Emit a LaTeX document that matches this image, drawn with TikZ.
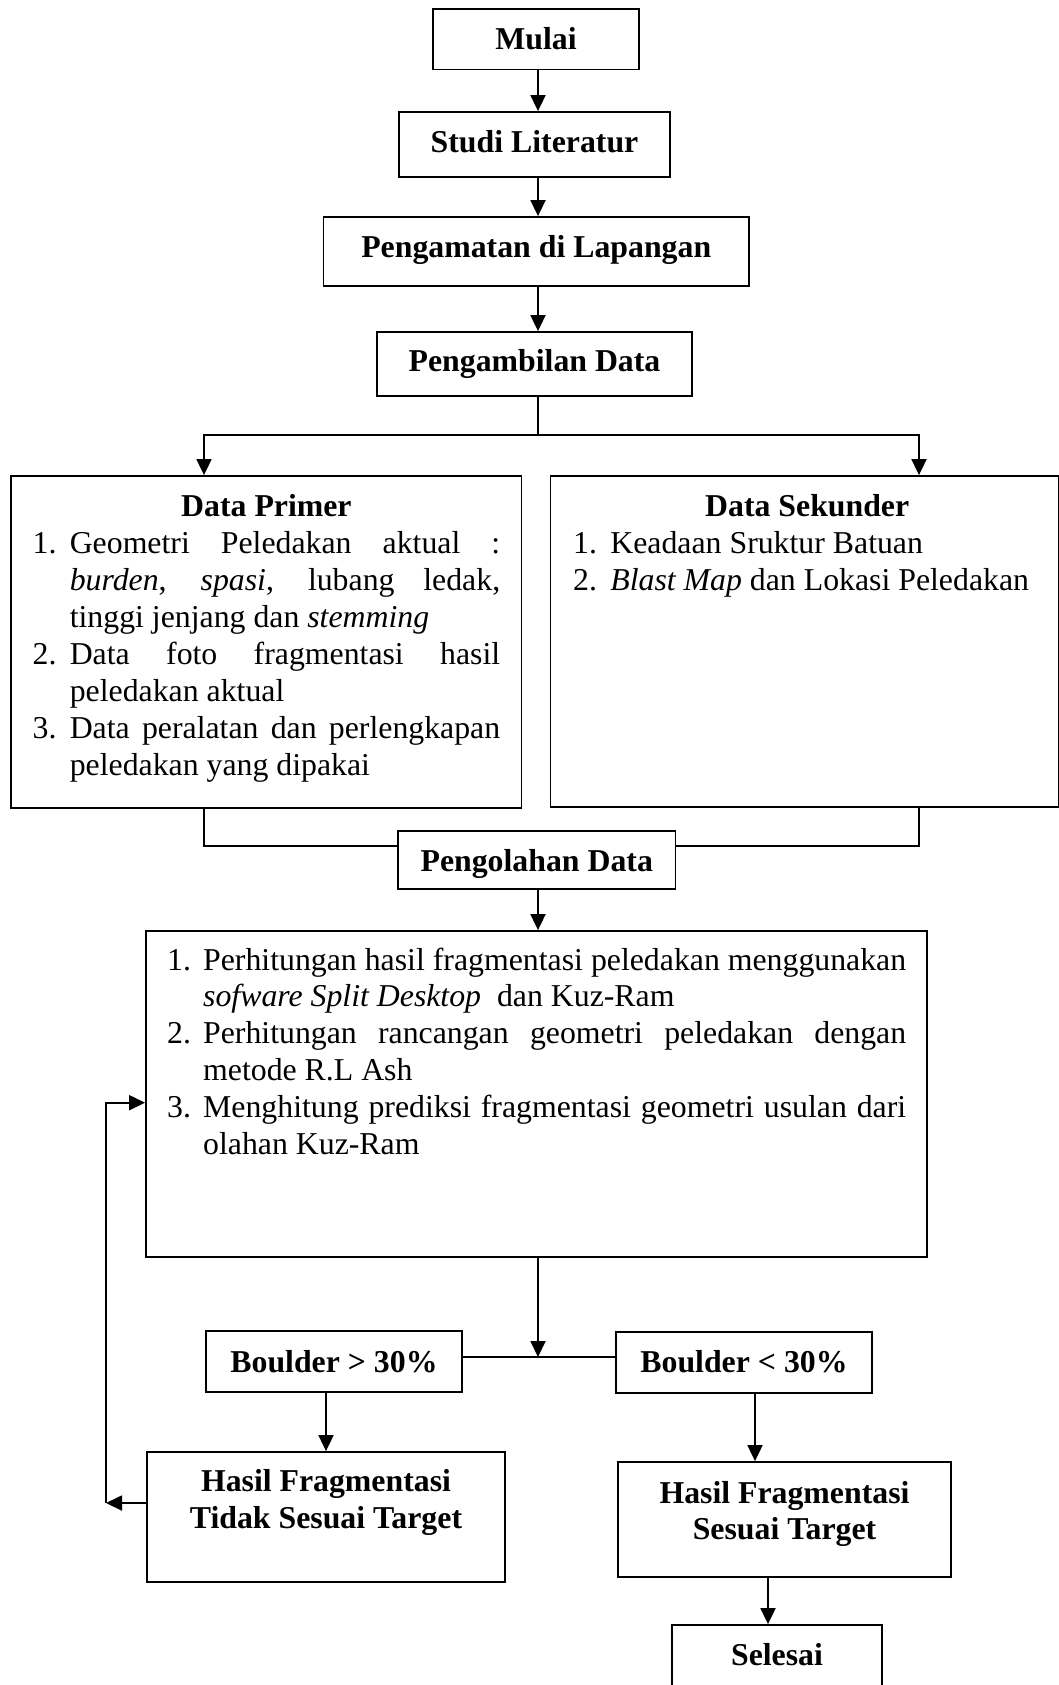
\documentclass[tikz,border=0pt]{standalone}
\usepackage{fontspec}
\setmainfont{Liberation Serif}
\usetikzlibrary{arrows.meta}
\newcommand{\fs}{\fontsize{31.8pt}{36.9pt}\selectfont}
\newcommand{\itm}[2][37.2pt]{\noindent\hangindent=#1\hangafter=1\makebox[#1][l]{#2}}
\begin{document}
\begin{tikzpicture}[x=1pt,y=-1pt,
  box/.style={draw, line width=1.8pt, inner sep=0pt, font=\fs\bfseries, text height=24pt, align=center},
  arr/.style={line width=1.8pt, -{Triangle[length=16pt,width=15pt]}},
  ln/.style={line width=1.8pt},
  txt/.style={inner sep=0pt}]
\useasboundingbox (0,0) rectangle (1059,1685);

% boxes
\node[box, minimum width=206pt, minimum height=60.5pt, text depth=2.5pt] (mulai) at (536,39.25) {Mulai};
\node[box, minimum width=271pt, minimum height=65pt, text depth=7.6pt] (studi) at (534.5,144.5) {Studi Literatur};
\node[box, minimum width=425.5pt, minimum height=69pt, text depth=12pt] (amat) at (536.25,251.5) {Pengamatan di Lapangan};
\node[box, minimum width=315pt, minimum height=64pt, text depth=8.6pt] (ambil) at (534.5,364) {Pengambilan Data};
\node[box, minimum width=510.5pt, minimum height=332pt] (primer) at (266.25,642) {};
\node[box, minimum width=508.5pt, minimum height=331pt] (sekunder) at (804.75,641.5) {};
\node[box, minimum width=277.5pt, minimum height=58pt, text depth=2pt] (olah) at (536.75,860) {Pengolahan Data};
\node[box, minimum width=781pt, minimum height=326pt] (proses) at (536.5,1094) {};
\node[box, minimum width=256pt, minimum height=61pt, text depth=2.4pt] (b1) at (334,1361.5) {Boulder > 30\%};
\node[box, minimum width=256pt, minimum height=61pt, text depth=4.4pt] (b2) at (744,1362.5) {Boulder < 30\%};
\node[box, minimum width=358pt, minimum height=130pt] (tidak) at (326,1517) {};
\node[box, minimum width=333pt, minimum height=115pt] (sesuai) at (784.5,1519.5) {};
\node[box, minimum width=210pt, minimum height=65pt, text depth=9pt] (selesai) at (777,1657.5) {Selesai};

% texts inside big boxes
\node[txt, anchor=base west] (primertext) at (32.4,516.7) {\parbox[t]{467.6pt}{\fs
  {\centering\bfseries Data Primer\par}
  \itm{1.}Geometri Peledakan aktual :\linebreak \textit{burden}, \textit{spasi}, lubang ledak,\linebreak tinggi jenjang dan \textit{stemming}\par
  \itm{2.}Data foto fragmentasi hasil\linebreak peledakan aktual\par
  \itm{3.}Data peralatan dan perlengkapan\linebreak peledakan yang dipakai\par}};
\node[txt, anchor=base west] (sekundertext) at (573,516.7) {\parbox[t]{468pt}{\fs
  {\centering\bfseries Data Sekunder\par}
  \itm{1.}Keadaan Sruktur Batuan\par
  \itm{2.}\textit{Blast Map} dan Lokasi Peledakan\par}};
\node[txt, anchor=base west] (prosestext) at (167,970) {\parbox[t]{739pt}{\fs
  \itm[36pt]{1.}Perhitungan hasil fragmentasi peledakan menggunakan\linebreak \textit{sofware Split Desktop}\ \ dan Kuz-Ram\par
  \itm[36pt]{2.}Perhitungan rancangan geometri peledakan dengan\linebreak metode R.L Ash\par
  \itm[36pt]{3.}Menghitung prediksi fragmentasi geometri usulan dari\linebreak olahan Kuz-Ram\par}};
\node[txt, anchor=base] (tidaktext) at (326,1491.7) {\parbox[t]{350pt}{\fs\bfseries\centering Hasil Fragmentasi\\Tidak Sesuai Target}};
\node[txt, anchor=base] (sesuaitext) at (784.5,1503) {\parbox[t]{330pt}{\fs\bfseries\centering Hasil Fragmentasi\\Sesuai Target}};

% helper coordinates
\coordinate (sp) at (538,0);
\coordinate (pl) at (204,0);
\coordinate (pr) at (919,0);
\coordinate (j1) at (538,435);
\coordinate (my) at (0,846);
\coordinate (j2) at (538,1357);
\coordinate (c1) at (326,0);
\coordinate (c2) at (755,0);
\coordinate (c3) at (768,0);
\coordinate (fb1) at (106,1503);
\coordinate (fb2) at (106,1102.7);

% connectors
\draw[arr] (sp |- mulai.south) -- (sp |- studi.north);
\draw[arr] (sp |- studi.south) -- (sp |- amat.north);
\draw[arr] (sp |- amat.south) -- (sp |- ambil.north);
\draw[ln] (sp |- ambil.south) -- (j1);
\draw[arr] (j1) -| (pl |- primer.north);
\draw[arr] (j1) -| (pr |- sekunder.north);
\draw[ln] (pl |- primer.south) |- (olah.west |- my);
\draw[ln] (pr |- sekunder.south) |- (olah.east |- my);
\draw[arr] (sp |- olah.south) -- (sp |- proses.north);
\draw[arr] (sp |- proses.south) -- (j2);
\draw[ln] (b1.east |- j2) -- (b2.west |- j2);
\draw[arr] (c1 |- b1.south) -- (c1 |- tidak.north);
\draw[arr] (c2 |- b2.south) -- (c2 |- sesuai.north);
\draw[arr] (c3 |- sesuai.south) -- (c3 |- selesai.north);
\draw[arr] (tidak.west |- fb1) -- (fb1);
\draw[arr] (fb1) -- (fb2) -- (proses.west |- fb2);
\end{tikzpicture}
\end{document}
